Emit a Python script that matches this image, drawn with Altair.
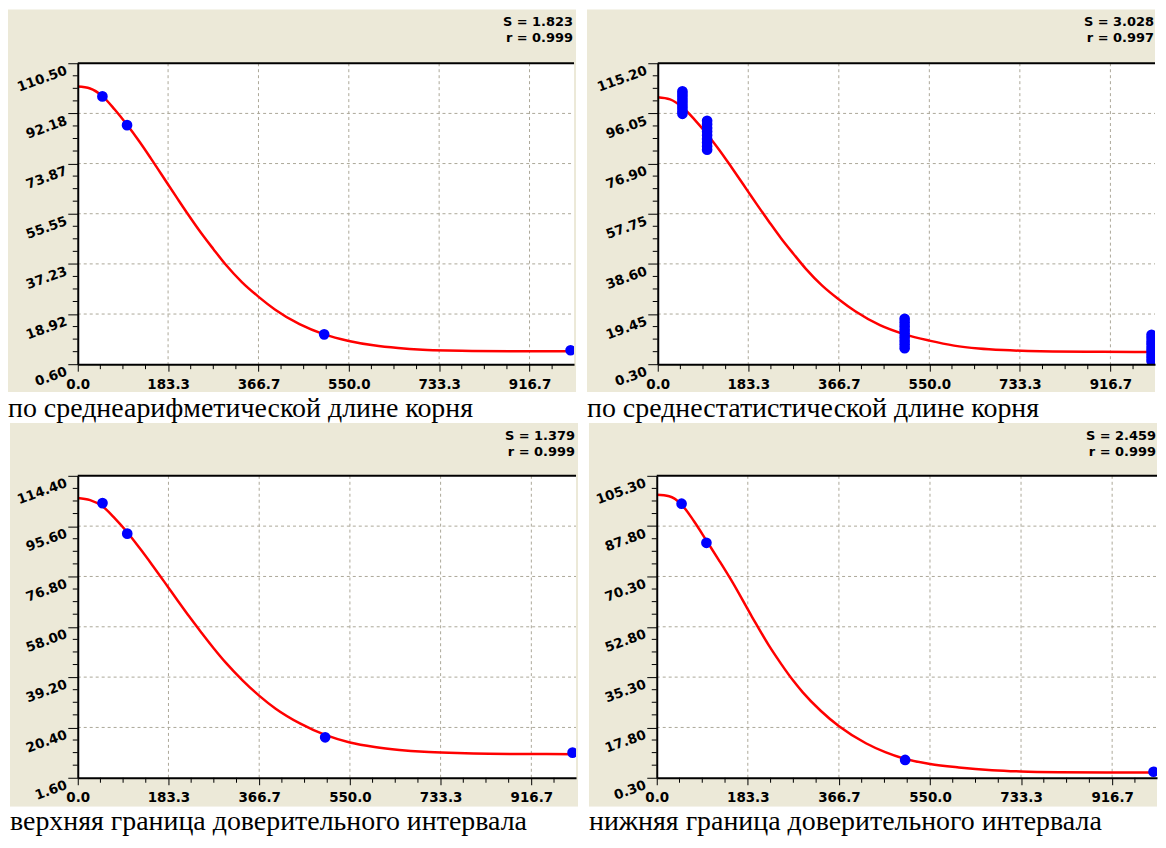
import altair as alt
import pandas as pd

BEIGE = "#ECE9D8"
GRID = "#ACA899"
LABEL_FONT = "DejaVu Sans"
CAPTION_FONT = "Liberation Serif"

# ---------------- data ----------------
X_TICKS = [0.0, 183.3, 366.7, 550.0, 733.3, 916.7]
X_MAX = 1007

# panel 1
p1_curve_x = [0, 25, 50, 75, 100, 125, 150, 183, 200, 225, 250, 275, 300, 333, 367, 400, 450, 500, 550, 600, 650, 700, 750, 800, 900, 1007]
p1_curve_y = [102.0, 101.3, 98.5, 93.6, 88.0, 81.9, 75.3, 66.3, 61.7, 55.0, 48.6, 42.7, 37.0, 30.6, 25.2, 20.6, 15.2, 11.5, 9.1, 7.5, 6.5, 5.9, 5.6, 5.45, 5.33, 5.3]
p1_pts_x = [50, 100, 500, 1000]
p1_pts_y = [98.4, 87.9, 11.5, 5.7]
p1_y_ticks = [0.60, 18.92, 37.23, 55.55, 73.87, 92.18, 110.50]

# panel 2
p2_curve_x = [0, 25, 50, 75, 100, 125, 150, 183, 200, 225, 250, 275, 300, 333, 367, 400, 450, 500, 550, 600, 650, 700, 750, 800, 900, 1007]
p2_curve_y = [102.2, 101.4, 98.4, 93.6, 88.1, 82.0, 75.3, 66.2, 61.5, 54.8, 48.3, 42.4, 36.7, 30.3, 25.0, 20.5, 15.2, 11.7, 9.3, 7.4, 6.3, 5.7, 5.35, 5.15, 5.02, 5.0]
p2_pts_x = [50] * 9 + [100] * 9 + [500] * 9 + [1000] * 9
p2_pts_y = [95.9, 96.9, 98.0, 99.1, 100.2, 101.3, 102.4, 103.5, 104.5,
            82.2, 83.5, 84.9, 86.3, 87.7, 89.1, 90.5, 91.9, 93.2,
            6.4, 7.8, 9.2, 10.6, 12.0, 13.4, 14.8, 16.2, 17.6,
            1.5, 2.8, 4.0, 5.3, 6.5, 7.8, 9.0, 10.3, 11.5]
p2_y_ticks = [0.30, 19.45, 38.60, 57.75, 76.90, 96.05, 115.20]

# panel 3
p3_curve_x = [0, 25, 50, 75, 100, 125, 150, 183, 200, 225, 250, 275, 300, 333, 367, 400, 450, 500, 550, 600, 650, 700, 750, 800, 900, 1007]
p3_curve_y = [106.1, 105.3, 103.0, 98.5, 93.3, 87.4, 81.2, 72.7, 68.3, 61.9, 55.8, 49.9, 44.4, 38.0, 32.2, 27.4, 21.8, 17.6, 14.8, 13.1, 12.0, 11.3, 10.9, 10.66, 10.48, 10.42]
p3_pts_x = [50, 100, 500, 1000]
p3_pts_y = [104.2, 92.8, 16.7, 11.0]
p3_y_ticks = [1.60, 20.40, 39.20, 58.00, 76.80, 95.60, 114.40]

# panel 4
p4_curve_x = [0, 25, 50, 75, 100, 125, 150, 192, 225, 250, 275, 294, 330, 367, 421, 460, 497, 550, 608, 675, 733, 810, 917, 1007]
p4_curve_y = [98.7, 98.2, 95.3, 89.5, 82.8, 76.0, 69.0, 56.2, 46.5, 40.0, 34.0, 30.0, 23.6, 18.2, 12.3, 9.2, 7.0, 5.1, 3.9, 2.95, 2.5, 2.25, 2.15, 2.1]
p4_pts_x = [50, 100, 500, 1000]
p4_pts_y = [95.6, 82.0, 6.5, 2.4]
p4_y_ticks = [0.30, 17.80, 35.30, 52.80, 70.30, 87.80, 105.30]

stats = [("S = 1.823", "r = 0.999"), ("S = 3.028", "r = 0.997"),
         ("S = 1.379", "r = 0.999"), ("S = 2.459", "r = 0.999")]
captions = ["по среднеарифметической длине корня",
            "по среднестатистической длине корня",
            "верхняя граница доверительного интервала",
            "нижняя граница доверительного интервала"]


def minor_of(major, extra_end=None):
    out = []
    for a, b in zip(major[:-1], major[1:]):
        step = (b - a) / 4.0
        out += [a + step * k for k in (1, 2, 3)]
    if extra_end is not None:
        step = (major[1] - major[0]) / 4.0
        v = major[-1] + step
        while v < extra_end:
            out.append(v)
            v += step
    return out


def panel(cx, cy, px, py, yt, st, cap, w, h, bx0, bx1, by0, by1, cap_y, cap_bottom):
    xs = alt.Scale(domain=[0, X_MAX], nice=False, zero=False)
    ys = alt.Scale(domain=[yt[0], yt[-1]], nice=False, zero=False)
    xaxis = alt.Axis(values=X_TICKS, format=".1f", title=None, grid=False,
                     domainColor="black", domainWidth=2, tickColor="black",
                     tickWidth=1, tickSize=7, labelFont=LABEL_FONT,
                     labelFontWeight="bold", labelFontSize=13.5, labelColor="black",
                     labelPadding=6, labelOverlap=False, labelFlush=False, zindex=1)
    yaxis = alt.Axis(values=yt, format=".2f", title=None, grid=False,
                     domainColor="black", domainWidth=2, tickColor="black",
                     tickWidth=1, tickSize=10, labelFont=LABEL_FONT,
                     labelFontWeight="bold", labelFontSize=13.5, labelColor="black",
                     labelAngle=340, labelAlign="right", labelBaseline="top",
                     labelPadding=4, labelOverlap=False, labelFlush=False, zindex=1)
    X = lambda: alt.X("x:Q", scale=xs, axis=xaxis)
    Y = lambda: alt.Y("y:Q", scale=ys, axis=yaxis)

    one = alt.Data(values=[{"a": 1}])
    beige = alt.Chart(one).mark_rect(color=BEIGE).encode(
        x=alt.value(bx0), x2=alt.value(bx1), y=alt.value(by0), y2=alt.value(by1))
    capbg = alt.Chart(one).mark_rect(color="white").encode(
        x=alt.value(bx0), x2=alt.value(bx1), y=alt.value(by1), y2=alt.value(cap_bottom))
    plotbg = alt.Chart(one).mark_rect(color="white").encode(
        x=alt.value(0), x2=alt.value(w), y=alt.value(0), y2=alt.value(h))

    xgrid = alt.Chart(pd.DataFrame({"x": X_TICKS[1:]})).mark_rule(
        color=GRID, strokeDash=[3, 3], strokeWidth=1).encode(
        x=X(), y=alt.value(0), y2=alt.value(h))
    ygrid = alt.Chart(pd.DataFrame({"y": yt[1:-1]})).mark_rule(
        color=GRID, strokeDash=[3, 3], strokeWidth=1).encode(
        y=Y(), x=alt.value(0), x2=alt.value(w))
    xminor = alt.Chart(pd.DataFrame({"x": minor_of(X_TICKS, X_MAX)})).mark_rule(
        color="black", strokeWidth=1).encode(
        x=X(), y=alt.value(h), y2=alt.value(h + 5))
    yminor = alt.Chart(pd.DataFrame({"y": minor_of(yt)})).mark_rule(
        color="black", strokeWidth=1).encode(
        y=Y(), x=alt.value(-5), x2=alt.value(0))
    top = alt.Chart(one).mark_rule(color="black", strokeWidth=2).encode(
        x=alt.value(0), x2=alt.value(w), y=alt.value(0))

    line = alt.Chart(pd.DataFrame({"x": cx, "y": cy})).mark_line(
        color="#FF0000", strokeWidth=2.5, interpolate="monotone", clip=True).encode(
        x=X(), y=Y())
    pts = alt.Chart(pd.DataFrame({"x": px, "y": py})).mark_circle(
        color="#0000FF", opacity=1, size=115, clip=True).encode(x=X(), y=Y())

    s_txt = alt.Chart(one).mark_text(align="right", baseline="alphabetic",
                                     font=LABEL_FONT, fontWeight="bold", fontSize=13,
                                     color="black").encode(
        x=alt.value(w - 1), y=alt.value(by0 + 17), text=alt.value(st[0]))
    r_txt = alt.Chart(one).mark_text(align="right", baseline="alphabetic",
                                     font=LABEL_FONT, fontWeight="bold", fontSize=13,
                                     color="black").encode(
        x=alt.value(w - 1), y=alt.value(by0 + 33), text=alt.value(st[1]))
    cap_txt = alt.Chart(one).mark_text(align="left", baseline="alphabetic",
                                       font=CAPTION_FONT, fontSize=28,
                                       color="black").encode(
        x=alt.value(bx0), y=alt.value(cap_y), text=alt.value(cap))

    return alt.layer(beige, capbg, plotbg, xgrid, ygrid, top, xminor, yminor,
                     line, pts, s_txt, r_txt, cap_txt).properties(width=w, height=h)


p1 = panel(p1_curve_x, p1_curve_y, p1_pts_x, p1_pts_y, p1_y_ticks, stats[0], captions[0],
           w=498, h=302, bx0=-70, bx1=500, by0=-54, by1=330, cap_y=355, cap_bottom=359)
p2 = panel(p2_curve_x, p2_curve_y, p2_pts_x, p2_pts_y, p2_y_ticks, stats[1], captions[1],
           w=499, h=302, bx0=-71, bx1=499, by0=-54, by1=330, cap_y=355, cap_bottom=359)
p3 = panel(p3_curve_x, p3_curve_y, p3_pts_x, p3_pts_y, p3_y_ticks, stats[2], captions[2],
           w=500, h=303, bx0=-68, bx1=502, by0=-53, by1=332, cap_y=355, cap_bottom=355)
p4 = panel(p4_curve_x, p4_curve_y, p4_pts_x, p4_pts_y, p4_y_ticks, stats[3], captions[3],
           w=502, h=303, bx0=-68, bx1=502, by0=-53, by1=332, cap_y=355, cap_bottom=355)

row1 = alt.hconcat(p1, p2, spacing=11)
row2 = alt.hconcat(p3, p4, spacing=11)
chart = alt.vconcat(row1, row2, spacing=0).properties(
    padding=0, background="white").configure_view(strokeWidth=0)

chart.save("out.html", embed_options={"renderer": "svg", "actions": False})
